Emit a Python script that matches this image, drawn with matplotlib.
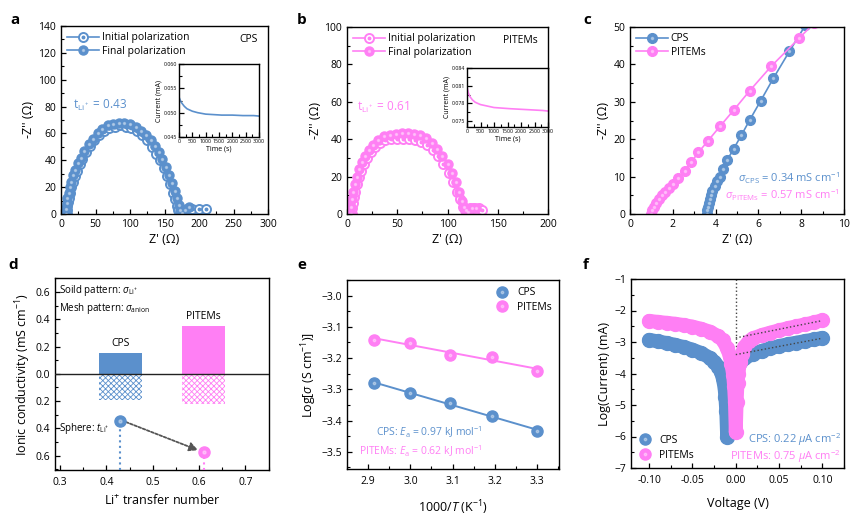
import numpy as np
import matplotlib
matplotlib.use('Agg')
from matplotlib import pyplot as plt
from matplotlib.ticker import MultipleLocator, FuncFormatter
from matplotlib.legend_handler import HandlerTuple

plt.rcParams['font.family'] = ['Open Sans', 'DejaVu Sans']
plt.rcParams['mathtext.fontset'] = 'custom'
plt.rcParams['mathtext.rm'] = 'Open Sans'
plt.rcParams['mathtext.it'] = 'Open Sans:italic'
plt.rcParams['mathtext.bf'] = 'Open Sans:bold'
plt.rcParams['font.size'] = 7.5
plt.rcParams['hatch.linewidth'] = 0.6

BLUE = '#5b90cc'
PINK = '#ff7ff4'

# ---- panel a : CPS Nyquist (before / after polarization)
cps_init_x = [8, 8, 9, 10, 11, 13, 15, 17, 20, 23, 27, 31, 36, 42, 48, 55, 62, 70, 78, 86,
              94, 102, 110, 118, 125, 132, 138, 144, 149, 154, 158, 162, 165, 168, 170, 172,
              176, 183, 190, 200, 210]
cps_init_y = [0, 3, 6, 9, 12, 16, 20, 24, 28, 32, 37, 41, 46, 51, 55, 59, 62, 64, 65, 66,
              65, 64, 62, 59, 55, 50, 45, 40, 34, 28, 22, 16, 11, 6, 3, 1,
              2, 4, 4, 4, 3.5]
cps_fin_x = [7, 7, 8, 9, 11, 13, 15, 18, 21, 25, 29, 34, 40, 46, 53, 60, 68, 76, 84, 92,
             100, 108, 116, 123, 130, 136, 142, 147, 152, 157, 161, 165, 168, 171, 173, 175,
             180, 186]
cps_fin_y = [0, 4, 8, 12, 16, 20, 24, 29, 33, 38, 42, 47, 52, 56, 60, 63, 66, 67, 68, 68,
             67, 65, 62, 59, 55, 51, 46, 41, 35, 29, 23, 17, 12, 7, 3, 1,
             3, 5]
cps_t = [0, 50, 100, 200, 300, 500, 700, 1000, 1300, 1600, 2000, 2400, 2800, 3000]
cps_i = [0.0532, 0.0525, 0.0520, 0.0513, 0.0508, 0.0503, 0.0500, 0.0497, 0.0496, 0.0495,
         0.0495, 0.0494, 0.0494, 0.0493]

# ---- panel b : PITEMs Nyquist
pit_init_x = [5, 5, 6, 7, 8, 10, 12, 14, 17, 20, 24, 28, 33, 38, 44, 50, 56, 62, 68, 74,
              80, 86, 91, 96, 101, 105, 109, 112, 115, 117, 119, 122, 126, 131, 134]
pit_init_y = [0, 3, 6, 9, 12, 16, 20, 23, 27, 30, 33, 36, 38, 39.5, 40, 40, 40, 40, 39.5, 38.5,
              37, 34, 31, 27, 22, 17, 12, 8, 4, 2, 1, 3, 3, 3, 2]
pit_fin_x = [4, 4, 5, 6, 8, 10, 12, 15, 18, 22, 26, 31, 37, 43, 49, 55, 61, 67, 73, 79,
             85, 90, 95, 100, 104, 108, 111, 114, 116, 118, 120, 124, 128]
pit_fin_y = [0, 4, 8, 12, 16, 20, 24, 28, 31, 34, 37, 39.5, 41.5, 42.5, 43, 43.5, 43.5, 43, 42, 40.5,
             38, 35, 31, 27, 22, 17, 12, 7, 4, 2, 1, 3, 3]
pit_t = [0, 50, 100, 200, 300, 500, 700, 1000, 1300, 1600, 2000, 2400, 2800, 3000]
pit_i = [0.0808, 0.0798, 0.0792, 0.0786, 0.0782, 0.0778, 0.0776, 0.0773, 0.0772, 0.0771,
         0.0770, 0.0769, 0.0768, 0.0767]

# ---- panel c : high-frequency region
c_cps_x = [3.6, 3.62, 3.65, 3.7, 3.75, 3.8, 3.85, 3.95, 4.05, 4.2, 4.35, 4.55, 4.85, 5.2,
           5.6, 6.1, 6.7, 7.45, 8.2]
c_cps_y = [0, 1, 2, 3, 4, 5, 6.2, 7.5, 8.8, 10, 12, 14.5, 17.5, 21, 25.2, 30.2, 36.3, 43.5, 50.5]
c_pit_x = [1.0, 1.05, 1.1, 1.2, 1.35, 1.5, 1.65, 1.8, 2.0, 2.25, 2.55, 2.85, 3.2, 3.65,
           4.2, 4.85, 5.6, 6.6, 7.9, 8.6]
c_pit_y = [0, 1, 2, 3, 4, 5, 6, 7, 8, 9.7, 11.5, 13.8, 16.5, 19.6, 23.4, 27.8, 33, 39.5, 47, 51]

# ---- panel d : conductivity split and transfer number
d_names = ['CPS', 'PITEMs']
d_tli = [0.43, 0.61]
d_sigma_li = [0.15, 0.35]
d_sigma_anion = [0.19, 0.22]
d_sphere_y = [-0.343, -0.57]

# ---- panel e : Arrhenius
e_x = [2.915, 3.0, 3.095, 3.193, 3.3]
e_cps = [-3.280, -3.312, -3.345, -3.386, -3.432]
e_pit = [-3.141, -3.152, -3.189, -3.195, -3.241]

# ---- panel f : Tafel
f_cps_v = [-0.10, -0.09, -0.08, -0.07, -0.06, -0.05, -0.04, -0.03, -0.025, -0.02, -0.017, -0.015,
           -0.013, -0.012, -0.011, -0.010, -0.009, -0.008, -0.007, -0.006, -0.004, -0.002, 0.0,
           0.005, 0.01, 0.02, 0.03, 0.04, 0.05, 0.06, 0.07, 0.08, 0.09, 0.10]
f_cps_i = [-2.93, -2.98, -3.03, -3.09, -3.16, -3.24, -3.35, -3.50, -3.62, -3.78, -3.95, -4.15,
           -4.45, -4.75, -5.2, -6.0, -5.2, -4.8, -4.55, -4.38, -4.15, -3.98, -3.85,
           -3.65, -3.52, -3.38, -3.28, -3.2, -3.13, -3.07, -3.02, -2.97, -2.92, -2.87]
f_pit_v = [-0.10, -0.09, -0.08, -0.07, -0.06, -0.05, -0.04, -0.03, -0.02, -0.015, -0.01, -0.007,
           -0.005, -0.003, -0.002, -0.001, 0.0, 0.001, 0.002, 0.003, 0.005, 0.007, 0.01, 0.015,
           0.02, 0.03, 0.04, 0.05, 0.06, 0.07, 0.08, 0.09, 0.10]
f_pit_i = [-2.33, -2.36, -2.39, -2.42, -2.46, -2.51, -2.58, -2.67, -2.82, -2.95, -3.2, -3.45,
           -3.7, -4.05, -4.4, -4.9, -5.87, -4.9, -4.3, -4.0, -3.62, -3.38, -3.15, -2.98,
           -2.88, -2.78, -2.7, -2.63, -2.56, -2.5, -2.44, -2.38, -2.31]

W, H = 865, 521
fig = plt.figure(figsize=(W / 100, H / 100), dpi=100)
TUP = {tuple: HandlerTuple(ndivide=1)}


def ax_at(l, t, r, b):
    return fig.add_axes([l / W, 1 - b / H, (r - l) / W, (b - t) / H])


def style(ax, xmaj, xmin, ymaj, ymin, size=7.5):
    ax.xaxis.set_major_locator(MultipleLocator(xmaj))
    ax.xaxis.set_minor_locator(MultipleLocator(xmin))
    ax.yaxis.set_major_locator(MultipleLocator(ymaj))
    ax.yaxis.set_minor_locator(MultipleLocator(ymin))
    ax.tick_params(which='both', direction='in', top=False, right=False, labelsize=size)
    ax.tick_params(which='major', length=3.5, width=0.9)
    ax.tick_params(which='minor', length=2, width=0.8)
    for s in ax.spines.values():
        s.set_linewidth(1.0)


def open_pts(ax, x, y, c):
    l1, = ax.plot(x, y, '-o', color=c, mfc='white', mec=c, mew=1.4, ms=6.5, lw=1.2)
    l2, = ax.plot(x, y, 'o', color=c, ms=1.8, lw=0)
    return (l1, l2)


def ball_pts(ax, x, y, c, ms=6.5, ls='-', lw=1.2, shine=True):
    l1, = ax.plot(x, y, ls, marker='o', color=c, mfc=c, mec=c, ms=ms, lw=lw)
    if not shine:
        return l1
    l2, = ax.plot(x, y, 'o', color='white', alpha=0.35, ms=ms * 0.22, lw=0)
    return (l1, l2)


def panel_letter(x, y, s):
    fig.text(x / W, 1 - y / H, s, fontsize=11, fontweight='bold', ha='left', va='center')


# ================= a
ax = ax_at(61, 26, 268, 214)
h1 = open_pts(ax, cps_init_x, cps_init_y, BLUE)
h2 = ball_pts(ax, cps_fin_x, cps_fin_y, BLUE)
ax.set_xlim(0, 300)
ax.set_ylim(0, 140)
style(ax, 50, 25, 20, 10)
ax.set_xlabel("Z' (\u03a9)", fontsize=9, labelpad=2)
ax.set_ylabel("-Z'' (\u03a9)", fontsize=9, labelpad=2)
ax.legend([h1, h2], ['Initial polarization', 'Final polarization'], handler_map=TUP,
          loc='upper left', frameon=False, fontsize=7.5, handlelength=3.0,
          borderaxespad=0.2, labelspacing=0.25, handletextpad=0.3)
ax.text(0.95, 0.93, 'CPS', transform=ax.transAxes, ha='right', va='center', fontsize=7.5)
ax.text(18, 81, r't$_{\mathrm{Li^+}}$ = 0.43', color=BLUE, fontsize=8.5, va='center')
panel_letter(10, 20, 'a')

ins = ax_at(179, 64, 259, 137)
ins.plot(cps_t, cps_i, color=BLUE, lw=1.2)
ins.set_xlim(0, 3000)
ins.set_ylim(0.045, 0.060)
style(ins, 500, 250, 0.005, 0.0025, size=3.8)
ins.yaxis.set_major_formatter(FuncFormatter(lambda v, p: f'{v:.3f}'))
ins.set_xlabel('Time (s)', fontsize=5, labelpad=1)
ins.set_ylabel('Current (mA)', fontsize=5, labelpad=1)
ins.tick_params(pad=1.5)

# ================= b
ax = ax_at(347, 27, 548, 214)
h1 = open_pts(ax, pit_init_x, pit_init_y, PINK)
h2 = ball_pts(ax, pit_fin_x, pit_fin_y, PINK)
ax.set_xlim(0, 200)
ax.set_ylim(0, 100)
style(ax, 50, 25, 20, 10)
ax.set_xlabel("Z' (\u03a9)", fontsize=9, labelpad=2)
ax.set_ylabel("-Z'' (\u03a9)", fontsize=9, labelpad=2)
ax.legend([h1, h2], ['Initial polarization', 'Final polarization'], handler_map=TUP,
          loc='upper left', frameon=False, fontsize=7.5, handlelength=3.0,
          borderaxespad=0.2, labelspacing=0.25, handletextpad=0.3)
ax.text(0.95, 0.93, 'PITEMs', transform=ax.transAxes, ha='right', va='center', fontsize=7.5)
ax.text(10, 57, r't$_{\mathrm{Li^+}}$ = 0.61', color=PINK, fontsize=8.5, va='center')
panel_letter(297, 20, 'b')

ins = ax_at(467, 68, 548, 127)
ins.plot(pit_t, pit_i, color=PINK, lw=1.2)
style(ins, 500, 250, 0.003, 0.0015, size=3.8)
ins.set_xlim(0, 3000)
ins.set_ylim(0.074, 0.084)
ins.set_yticks([0.075, 0.078, 0.081, 0.084])
ins.yaxis.set_major_formatter(FuncFormatter(lambda v, p: f'{v:.3f}'))
ins.set_xlabel('Time (s)', fontsize=5, labelpad=1)
ins.set_ylabel('Current (mA)', fontsize=5, labelpad=1)
ins.tick_params(pad=1.5)

# ================= c
ax = ax_at(630, 27, 844, 214)
hc = ball_pts(ax, c_cps_x, c_cps_y, BLUE, ms=7)
hp = ball_pts(ax, c_pit_x, c_pit_y, PINK, ms=7)
ax.set_xlim(0, 10)
ax.set_ylim(0, 50)
style(ax, 2, 1, 10, 5)
ax.set_xlabel("Z' (\u03a9)", fontsize=9, labelpad=2)
ax.set_ylabel("-Z'' (\u03a9)", fontsize=9, labelpad=2)
ax.legend([hc, hp], ['CPS', 'PITEMs'], handler_map=TUP,
          loc='upper left', frameon=False, fontsize=7.5, handlelength=3.0,
          borderaxespad=0.2, labelspacing=0.25, handletextpad=0.3)
ax.text(0.98, 0.19, r'$\sigma_{\mathrm{CPS}}$ = 0.34 mS cm$^{-1}$', color=BLUE,
        transform=ax.transAxes, ha='right', va='center', fontsize=8)
ax.text(0.98, 0.10, r'$\sigma_{\mathrm{PITEMs}}$ = 0.57 mS cm$^{-1}$', color=PINK,
        transform=ax.transAxes, ha='right', va='center', fontsize=8)
panel_letter(583, 20, 'c')

# ================= d
ax = ax_at(55, 278, 269, 470)
cols = [BLUE, PINK]
ax.bar(d_tli, d_sigma_li, width=0.092, color=cols, zorder=2)
ax.bar(d_tli, [-v for v in d_sigma_anion], width=0.092, color='white', edgecolor=cols,
       hatch='xxxxxx', linewidth=0, zorder=2)
ax.axhline(0, color='#222222', lw=1.0, zorder=3)
ax.set_xlim(0.289, 0.751)
ax.set_ylim(-0.705, 0.703)
for x, y, c in zip(d_tli, d_sphere_y, cols):
    ax.plot([x, x], [-0.705, y], ':', color=c, lw=1.5, zorder=3)
    ax.plot([x], [y], 'o', color=c, ms=8, zorder=5)
    ax.plot([x], [y], 'o', color='white', alpha=0.35, ms=2.2, zorder=6)
ax.annotate('', xy=(d_tli[1] - 0.012, d_sphere_y[1] + 0.01),
            xytext=(d_tli[0] + 0.012, d_sphere_y[0] - 0.01),
            arrowprops=dict(arrowstyle='-|>', linestyle=(0, (1.5, 1)), color='#555555',
                            lw=1.3, mutation_scale=13, shrinkA=0, shrinkB=0), zorder=4)
style(ax, 0.1, 0.05, 0.2, 0.1)
ax.yaxis.set_major_formatter(FuncFormatter(lambda v, p: f'{abs(v):.1f}'))
ax.set_xlabel(r'Li$^{+}$ transfer number', fontsize=9, labelpad=4)
ax.set_ylabel(r'Ionic conductivity (mS cm$^{-1}$)', fontsize=9, labelpad=2)
ax.tick_params(axis='x', pad=5)
ax.text(0.298, 0.61, r'Soild pattern: $\sigma_{\mathrm{Li^{+}}}$', fontsize=7, va='center')
ax.text(0.298, 0.48, r'Mesh pattern: $\sigma_{\mathrm{anion}}$', fontsize=7, va='center')
ax.text(0.298, -0.40, r'Sphere: $t_{\mathrm{Li^{+}}}$', fontsize=7, va='center')
for x, h, n in zip(d_tli, d_sigma_li, d_names):
    ax.text(x, h + 0.07, n, ha='center', va='center', fontsize=7.5)
panel_letter(8, 265, 'd')

# ================= e
ax = ax_at(347, 280, 559, 469)
for y, c in [(e_cps, BLUE), (e_pit, PINK)]:
    k, b0 = np.polyfit(e_x, y, 1)
    xf = np.array([e_x[0], e_x[-1]])
    ax.plot(xf, k * xf + b0, color=c, lw=1.4)
hc = ball_pts(ax, e_x, e_cps, BLUE, ms=8, ls='', lw=0)
hp = ball_pts(ax, e_x, e_pit, PINK, ms=8, ls='', lw=0)
ax.set_xlim(2.85, 3.352)
ax.set_ylim(-3.555, -2.95)
style(ax, 0.1, 0.05, 0.1, 0.05)
ax.set_xlabel(r'1000/$T$ (K$^{-1}$)', fontsize=9, labelpad=8)
ax.set_ylabel(r'Log[$\sigma$ (S cm$^{-1}$)]', fontsize=9, labelpad=2)
ax.tick_params(axis='x', pad=5)
ax.legend([hc, hp], ['CPS', 'PITEMs'], handler_map=TUP,
          loc='upper right', frameon=False, fontsize=7.5, borderaxespad=0.3,
          labelspacing=0.35, handletextpad=0.8, handlelength=1.2)
ax.text(3.044, -3.437, r'CPS: $E_{\mathrm{a}}$ = 0.97 kJ mol$^{-1}$', color=BLUE,
        ha='center', va='center', fontsize=7.5)
ax.text(3.023, -3.499, r'PITEMs: $E_{\mathrm{a}}$ = 0.62 kJ mol$^{-1}$', color=PINK,
        ha='center', va='center', fontsize=7.5)
panel_letter(297, 265, 'e')

# ================= f
ax = ax_at(631, 279, 844, 468)
ax.plot([0, 0], [-1, -4], ':', color='#444444', lw=1.0, zorder=1)
ax.plot(f_cps_v, f_cps_i, '-', color=BLUE, lw=10, solid_capstyle='round',
        solid_joinstyle='round', zorder=2)
hc = ax.plot(f_cps_v, f_cps_i, 'o', color=BLUE, ms=10, zorder=2)[0]
ax.plot(f_pit_v, f_pit_i, '-', color=PINK, lw=10, solid_capstyle='round',
        solid_joinstyle='round', zorder=3)
hp = ax.plot(f_pit_v, f_pit_i, 'o', color=PINK, ms=10, zorder=3)[0]
ax.plot([0, 0.1], [-2.87, -2.32], ':', color='#444444', lw=1.0, zorder=6)
ax.plot([0, 0.1], [-3.40, -2.88], ':', color='#444444', lw=1.0, zorder=6)
ax.set_xlim(-0.121, 0.125)
ax.set_ylim(-7, -1)
style(ax, 0.05, 0.025, 1, 0.5)
ax.xaxis.set_major_formatter(FuncFormatter(lambda v, p: f'{v:.2f}'.replace('-0.00', '0.00')))
ax.set_xlabel('Voltage (V)', fontsize=9, labelpad=8)
ax.set_ylabel('Log(Current) (mA)', fontsize=9, labelpad=2)
ax.tick_params(axis='x', pad=5)
lc = ball_pts(ax, [], [], BLUE, ms=8, ls='', lw=0)
lp = ball_pts(ax, [], [], PINK, ms=8, ls='', lw=0)
ax.legend([lc, lp], ['CPS', 'PITEMs'], handler_map=TUP,
          loc='lower left', frameon=False, fontsize=7.5, borderaxespad=0.3,
          labelspacing=0.35, handletextpad=0.8, handlelength=1.2)
ax.text(0.985, 0.15, r'CPS: 0.22 $\mu$A cm$^{-2}$', color=BLUE, transform=ax.transAxes,
        ha='right', va='center', fontsize=8)
ax.text(0.985, 0.06, r'PITEMs: 0.75 $\mu$A cm$^{-2}$', color=PINK, transform=ax.transAxes,
        ha='right', va='center', fontsize=8)
panel_letter(583, 265, 'f')

fig.savefig('out.png', dpi=100)
